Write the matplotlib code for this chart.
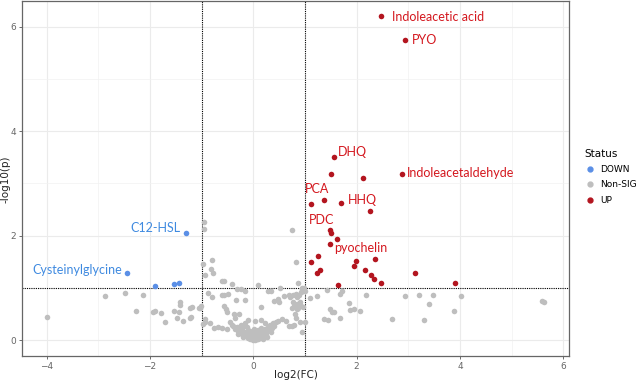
import numpy as np
import matplotlib
matplotlib.use("Agg")
from matplotlib import pyplot as plt
from matplotlib.lines import Line2D

# Significant up-regulated metabolites
up_x = [2.47, 2.94, 1.57, 1.50, 2.12, 2.87, 1.11, 1.36, 1.70, 2.25,
        1.49, 1.50, 1.61, 1.49, 1.26, 1.12, 2.36, 1.99, 1.94, 1.29,
        1.23, 2.17, 2.28, 2.33, 2.47, 3.12, 3.90, 1.63]
up_y = [6.20, 5.74, 3.51, 3.19, 3.11, 3.19, 2.60, 2.68, 2.63, 2.47,
        2.11, 2.06, 1.93, 1.85, 1.62, 1.49, 1.55, 1.51, 1.42, 1.34,
        1.28, 1.34, 1.24, 1.17, 1.10, 1.28, 1.10, 1.05]

# Significant down-regulated metabolites
down_x = [-1.30, -2.44, -1.90, -1.54, -1.44]
down_y = [2.05, 1.28, 1.03, 1.07, 1.10]

# Non significant metabolites
ns_x = [-4.00, -2.86, -2.48, -2.13, -2.26, -1.94, -1.90, -1.79, -1.70, -1.53,
        -1.48, -1.42, -1.41, -1.43, -1.36, -1.22, -1.22, -1.05, -1.19, -1.21,
        -0.95, -0.95, 0.74, -0.97, -0.79, -0.82, -0.77, -0.94, 0.83, -0.60,
        -0.56, -0.42, 0.87, -0.32, -0.24, -0.17, 0.09, 0.28, 0.34, 0.51,
        -0.88, -0.79, -0.60, -0.56, -0.48, -0.34, -1.03, -0.56, -0.53, -0.50,
        -0.37, -0.35, -0.27, -0.16, 0.14, 0.41, 0.48, 0.50, 0.59, 0.69,
        0.76, 0.79, 0.84, 0.83, 0.89, 0.93, 0.95, 0.98, 1.00, 0.90,
        0.85, 0.92, -0.94, -0.84, -0.76, -0.68, -0.61, -0.50, -0.41, -0.32,
        -0.24, -0.16, -0.10, 0.03, 0.14, 0.22, 0.39, 0.47, 0.56, 0.63,
        0.70, 0.83, 0.90, 0.79, 0.94, 0.96, 0.97, 0.77, 1.10, 1.23,
        1.43, 1.67, 1.71, 2.18, 2.93, 3.21, 3.47, 4.01, 3.39, 3.88,
        5.59, 5.63, 1.86, 1.87, 1.95, 2.07, 1.49, 1.52, 1.56, 1.68,
        1.36, 1.44, 2.68, 3.30, 0.71, 0.84, 0.74, 0.87, 0.97, 0.81,
        1.00, 0.94, 0.74, -1.01, -0.94, -0.97,
        -0.40, -0.35, -0.30, -0.28, -0.25, -0.22, -0.20, -0.18, -0.15, -0.12,
        -0.10, -0.08, -0.06, -0.04, -0.02, 0.00, 0.02, 0.04, 0.06, 0.08,
        0.10, 0.12, 0.14, 0.16, 0.18, 0.20, 0.22, 0.25, 0.28, 0.30,
        0.33, 0.36, 0.40, 0.44, -0.45, 0.00, 0.05, -0.05, 0.10, -0.10, 0.02,
        -0.14, -0.07, 0.07, 0.15, -0.20, 0.24, -0.30, 0.31, 0.12, -0.12,
        0.19, -0.02, 0.09, -0.18, 0.27, -0.26, 0.35, 0.01]
ns_y = [0.45, 0.84, 0.90, 0.86, 0.56, 0.53, 0.56, 0.52, 0.34, 0.56,
        0.42, 0.73, 0.67, 0.53, 0.37, 0.62, 0.43, 0.62, 0.63, 0.45,
        2.26, 2.12, 2.11, 1.46, 1.54, 1.37, 1.29, 1.24, 1.49, 1.14,
        1.14, 1.07, 1.10, 0.98, 0.98, 0.94, 1.05, 0.94, 0.94, 1.00,
        0.91, 0.83, 0.86, 0.87, 0.89, 0.76, 0.61, 0.65, 0.59, 0.54,
        0.50, 0.43, 0.51, 0.77, 0.63, 0.75, 0.78, 0.73, 0.85, 0.86,
        0.73, 0.65, 0.83, 0.88, 0.86, 0.92, 0.98, 1.00, 0.95, 0.73,
        0.59, 0.66, 0.40, 0.32, 0.24, 0.26, 0.24, 0.21, 0.30, 0.26,
        0.29, 0.32, 0.38, 0.36, 0.38, 0.32, 0.33, 0.36, 0.40, 0.36,
        0.28, 0.43, 0.34, 0.29, 0.99, 0.97, 0.94, 0.86, 0.81, 0.85,
        0.97, 0.89, 0.94, 0.87, 0.85, 0.87, 0.87, 0.84, 0.70, 0.56,
        0.75, 0.73, 0.72, 0.57, 0.60, 0.55, 0.59, 0.54, 0.54, 0.42,
        0.40, 0.38, 0.41, 0.39, 0.83, 0.70, 0.61, 0.61, 0.64, 0.51,
        0.35, 0.16, 0.27, 0.65, 0.35, 0.31,
        0.28, 0.22, 0.18, 0.25, 0.14, 0.20, 0.10, 0.16, 0.08, 0.12,
        0.05, 0.09, 0.03, 0.06, 0.02, 0.00, 0.04, 0.01, 0.07, 0.03,
        0.10, 0.05, 0.13, 0.08, 0.18, 0.11, 0.22, 0.15, 0.26, 0.19,
        0.30, 0.23, 0.28, 0.34, 0.34, 0.12, 0.15, 0.14, 0.20, 0.20, 0.22,
        0.10, 0.17, 0.12, 0.24, 0.06, 0.09, 0.11, 0.21, 0.17, 0.25,
        0.03, 0.08, 0.02, 0.28, 0.07, 0.14, 0.16, 0.06]

# Labels: name and text anchor in data units
up_labels = ["Indoleacetic acid", "PYO", "DHQ", "Indoleacetaldehyde",
             "PCA", "HHQ", "PDC", "pyochelin"]
up_label_x = [2.68, 3.07, 1.63, 2.98, 1.00, 1.83, 1.08, 1.56]
up_label_y = [6.18, 5.74, 3.61, 3.20, 2.90, 2.69, 2.30, 1.76]
down_labels = ["C12-HSL", "Cysteinylglycine"]
down_label_x = [-1.40, -2.54]
down_label_y = [2.15, 1.34]

fig = plt.figure(figsize=(6.36, 3.81), dpi=100)
ax = fig.add_axes([0.035, 0.066, 0.859, 0.931])

ax.scatter(ns_x, ns_y, s=16, color="#BEBEBE", linewidths=0, zorder=3)
ax.scatter(down_x, down_y, s=16, color="#5B8FE6", linewidths=0, zorder=3)
ax.scatter(up_x, up_y, s=16, color="#B3151F", linewidths=0, zorder=3)

for name, x, y in zip(up_labels, up_label_x, up_label_y):
    ax.text(x, y, name, color="#D4181F", fontsize=9, family="Lato",
            ha="left", va="center", zorder=4)
for name, x, y in zip(down_labels, down_label_x, down_label_y):
    ax.text(x, y, name, color="#3F8AE0", fontsize=9, family="Lato",
            ha="right", va="center", zorder=4)

# Thresholds
ax.axvline(-1, color="black", ls=(0, (1, 1)), lw=0.8, zorder=2)
ax.axvline(1, color="black", ls=(0, (1, 1)), lw=0.8, zorder=2)
ax.axhline(1, color="black", ls=(0, (1, 1)), lw=0.8, zorder=2)

ax.set_xlim(-4.47, 6.10)
ax.set_ylim(-0.30, 6.49)
ax.set_xticks([-4, -2, 0, 2, 4, 6])
ax.set_yticks([0, 2, 4, 6])
ax.set_xticks([-3, -1, 1, 3, 5], minor=True)
ax.set_yticks([1, 3, 5], minor=True)
ax.grid(which="major", color="#EBEBEB", lw=0.8, zorder=0)
ax.grid(which="minor", color="#F2F2F2", lw=0.5, zorder=0)
ax.set_axisbelow(True)
ax.tick_params(which="major", labelsize=6.5, labelcolor="#666666", color="#555555",
               length=2.5, width=0.6, pad=2)
ax.tick_params(which="minor", length=0)
for sp in ax.spines.values():
    sp.set_color("#666666")
    sp.set_linewidth(0.9)

fig.text(0.465, 0.016, "log2(FC)", ha="center", va="center", fontsize=7.5, color="#222222")
fig.text(0.009, 0.53, "-log10(p)", ha="center", va="center", rotation=90,
         fontsize=7.5, color="#222222")

handles = [Line2D([], [], marker="o", ls="", color=c, markersize=3.5)
           for c in ["#5B8FE6", "#BEBEBE", "#B3151F"]]
leg = fig.legend(handles, ["DOWN", "Non-SIG", "UP"], title="Status",
                 loc="upper left", bbox_to_anchor=(0.906, 0.631), frameon=False,
                 fontsize=6.5, title_fontsize=7.5, handletextpad=0.6,
                 labelspacing=0.7, handlelength=1.2)
leg._legend_box.align = "left"

fig.savefig("out.png", dpi=100)
